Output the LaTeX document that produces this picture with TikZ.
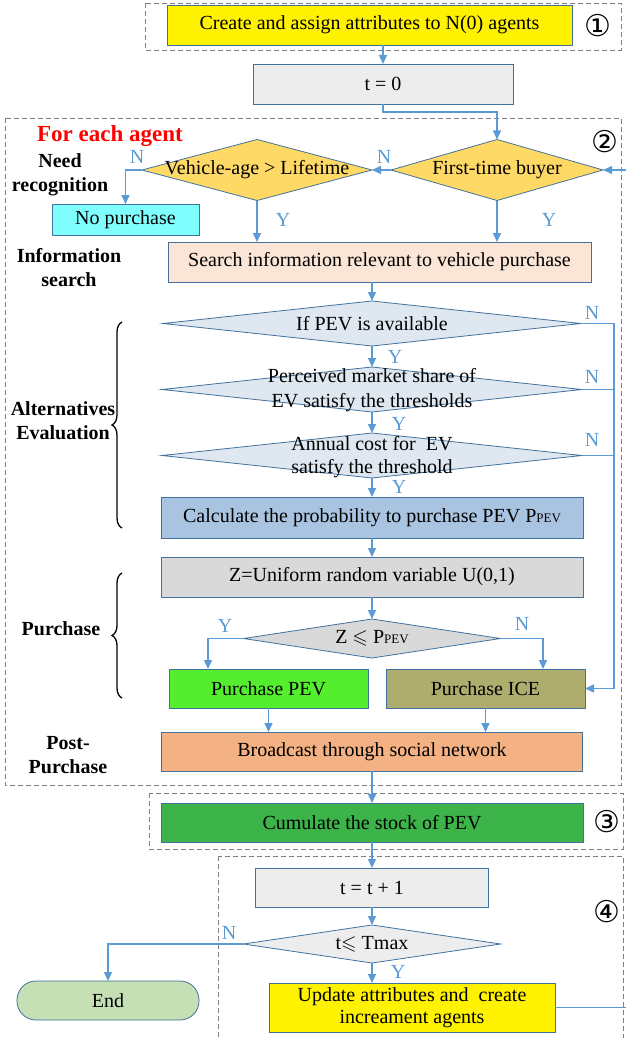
\documentclass[tikz,border=0pt]{standalone}
\usepackage{fontspec}
\usepackage{amssymb}
\setmainfont{Liberation Serif}
\newfontfamily\circfont{DejaVu Sans}
\usetikzlibrary{shapes.geometric,arrows.meta,decorations.pathreplacing}
\definecolor{edgeblue}{HTML}{41719C}
\definecolor{flowblue}{HTML}{5B9BD5}
\definecolor{gold}{HTML}{FFD966}
\definecolor{aqua}{HTML}{80FFFF}
\definecolor{peach}{HTML}{FBE5D6}
\definecolor{pale}{HTML}{DFE7F0}
\definecolor{steel}{HTML}{A9C4E0}
\definecolor{lightgray}{HTML}{D9D9D9}
\definecolor{paper}{HTML}{EDEDED}
\definecolor{lime}{HTML}{55EE2E}
\definecolor{olivebox}{HTML}{ADAD6E}
\definecolor{salmon}{HTML}{F4B183}
\definecolor{grass}{HTML}{3CB44A}
\definecolor{mint}{HTML}{C5E0B4}
\newcommand{\ppev}{P{\fontsize{13}{13}\selectfont PEV}}

\begin{document}
\begin{tikzpicture}[x=1pt, y=-1pt,
  box/.style={draw=edgeblue, fill=#1, line width=0.8pt, inner sep=0pt, outer sep=0pt, minimum height=40pt, align=center, font=\fontsize{20}{23}\selectfont},
  decide/.style={diamond, draw=edgeblue, fill=#1, line width=0.8pt, inner sep=0pt, outer sep=0pt},
  dtext/.style={align=center, font=\fontsize{20}{25}\selectfont},
  flow/.style={draw=flowblue, line width=1.4pt, -{Triangle[length=9pt,width=8pt]}},
  line/.style={draw=flowblue, line width=1.4pt},
  yn/.style={text=flowblue, font=\fontsize{20}{20}\selectfont, inner sep=0pt},
  stage/.style={font=\bfseries\fontsize{20}{24}\selectfont, align=center, inner sep=0pt},
  group/.style={draw=gray, line width=0.8pt, dash pattern=on 5pt off 3pt},
  brc/.style={decorate, decoration={brace, amplitude=10pt}, line width=1.3pt},
  num/.style={font=\circfont\fontsize{30}{30}\selectfont, inner sep=0pt}]
\useasboundingbox (0,0) rectangle (626,1038);

\draw [group] (145,3) rectangle (621,50);
\draw [group] (5,118) rectangle (621,785);
\draw [group] (149,793) rectangle (623,849);
\draw [group] (218,856) rectangle (623,1045);
\node [num] (c1) at (598,26) {①};
\node [num] (c2) at (605,142) {②};
\node [num] (c3) at (607,822) {③};
\node [num] (c4) at (607,912) {④};

\node [box=yellow, minimum width=405pt] (create) at (369.5,25) {Create and assign attributes to N(0) agents};
\node [box=paper, minimum width=260pt] (t0) at (383,84) {t = 0};
\node [decide=gold, minimum width=230pt, minimum height=61pt,
  label={[dtext]center:Vehicle-age > Lifetime}] (d1) at (257,170) {};
\node [decide=gold, minimum width=212pt, minimum height=61pt,
  label={[dtext]center:First-time buyer}] (d2) at (497,170) {};
\node [box=aqua, minimum width=147pt, minimum height=31pt] (nop) at (125.5,219.5) {No purchase};
\node [box=peach, minimum width=423pt] (search) at (379.5,262) {Search information relevant to vehicle purchase};
\node [decide=pale, minimum width=418pt, minimum height=45pt,
  label={[dtext]center:If PEV is available}] (d3) at (372,323.5) {};
\node [decide=pale, minimum width=420pt, minimum height=45pt,
  label={[dtext, yshift=-1pt]center:{Perceived market share of\\EV satisfy the thresholds}}] (d4) at (372,389.5) {};
\node [decide=pale, minimum width=420pt, minimum height=45pt,
  label={[dtext, yshift=-2pt, font=\fontsize{20}{23}\selectfont]center:{Annual cost for\ \ EV\\satisfy the threshold}}] (d5) at (372,455.5) {};
\node [box=steel, minimum width=422pt, minimum height=41pt] (calc) at (372,517.5) {Calculate the probability to purchase PEV \ppev};
\node [box=lightgray, minimum width=422pt] (zbox) at (372,577) {Z=Uniform random variable U(0,1)};
\node [decide=lightgray, minimum width=257pt, minimum height=39pt,
  label={[dtext]center:Z $\leqslant$ \ppev}] (d6) at (372,638.5) {};
\node [box=lime, minimum width=199pt, minimum height=39pt] (pev) at (268.5,688.5) {Purchase PEV};
\node [box=olivebox, minimum width=199pt, minimum height=39pt] (ice) at (485.5,688.5) {Purchase ICE};
\node [box=salmon, minimum width=421pt, minimum height=39pt] (bcast) at (372,751.5) {Broadcast through social network};
\node [box=grass, minimum width=422pt, minimum height=39pt] (cum) at (372,822.5) {Cumulate the stock of PEV};
\node [box=paper, minimum width=233pt, minimum height=39pt] (t1) at (372,887.5) {t = t + 1};
\node [decide=paper, minimum width=257pt, minimum height=38pt,
  label={[dtext]center:t$\leqslant$ Tmax}] (d7) at (372,944) {};
\node [box=mint, minimum width=182pt, minimum height=39pt, rounded corners=19pt] (stop) at (108,1000.5) {End};
\node [box=yellow, minimum width=286pt, minimum height=49pt, font=\fontsize{20}{22}\selectfont] (upd) at (412,1007.5) {Update attributes and\ \ create\\increament agents};

\node [stage, text=red, font=\bfseries\fontsize{23}{23}\selectfont] (each) at (110,136) {For each agent};
\node [stage] (need) at (60,175) {Need\\recognition};
\node [stage] (info) at (69,268) {Information\\search};
\node [stage] (alt) at (63,421) {Alternatives\\Evaluation};
\node [stage] (buy) at (61,629) {Purchase};
\node [stage] (post) at (68,755) {Post-\\Purchase};
\draw [brc] (122,528) -- (122,322);
\draw [brc] (122,698) -- (122,573);

\coordinate (rail) at (614,0);
\draw [flow] (create.south -| t0.north) -- (t0.north);
\draw [flow] (t0.south) -- ++(0,8) -| (d2.north);
\draw [flow] (d2.west) -- (d1.east);
\draw [flow] (d1.west) -| (nop.north);
\draw [flow] (d1.south) -- (d1.south |- search.north);
\draw [flow] (d2.south) -- (d2.south |- search.north);
\draw [flow] (search.south -| d3.north) -- (d3.north);
\draw [flow] (d3.south) -- (d4.north);
\draw [flow] (d4.south) -- (d5.north);
\draw [flow] (d5.south) -- (calc.north);
\draw [flow] (calc.south) -- (zbox.north);
\draw [flow] (zbox.south) -- (d6.north);
\draw [flow] (d3.east) -- (d3.east -| rail) |- (ice.east);
\draw [line] (d4.east) -- (d4.east -| rail);
\draw [line] (d5.east) -- (d5.east -| rail);
\draw [flow] (d6.west) -| ([xshift=39pt]pev.north west);
\draw [flow] (d6.east) -| ([xshift=-42pt]ice.north east);
\draw [flow] (pev.south) -- (pev.south |- bcast.north);
\draw [flow] (ice.south) -- (ice.south |- bcast.north);
\draw [flow] (bcast.south) -- (cum.north);
\draw [flow] (cum.south) -- (t1.north);
\draw [flow] (t1.south) -- (d7.north);
\draw [flow] (d7.west) -| (stop.north);
\draw [flow] (d7.south) -- (d7.south |- upd.north);
\draw [flow] (upd.east) -- ++(73,0) |- (d2.east);

\node [yn] (n1) at (137,157) {N};
\node [yn] (n2) at (384,157) {N};
\node [yn] (y1) at (283,220) {Y};
\node [yn] (y2) at (549,220) {Y};
\node [yn] (n3) at (592,313) {N};
\node [yn] (y3) at (395,357) {Y};
\node [yn] (n4) at (592,377) {N};
\node [yn] (y4) at (399,424) {Y};
\node [yn] (n5) at (592,440) {N};
\node [yn] (y5) at (399,487) {Y};
\node [yn] (y6) at (225,626) {Y};
\node [yn] (n6) at (522,624) {N};
\node [yn] (n7) at (229,933) {N};
\node [yn] (y7) at (398,972) {Y};
\end{tikzpicture}
\end{document}
